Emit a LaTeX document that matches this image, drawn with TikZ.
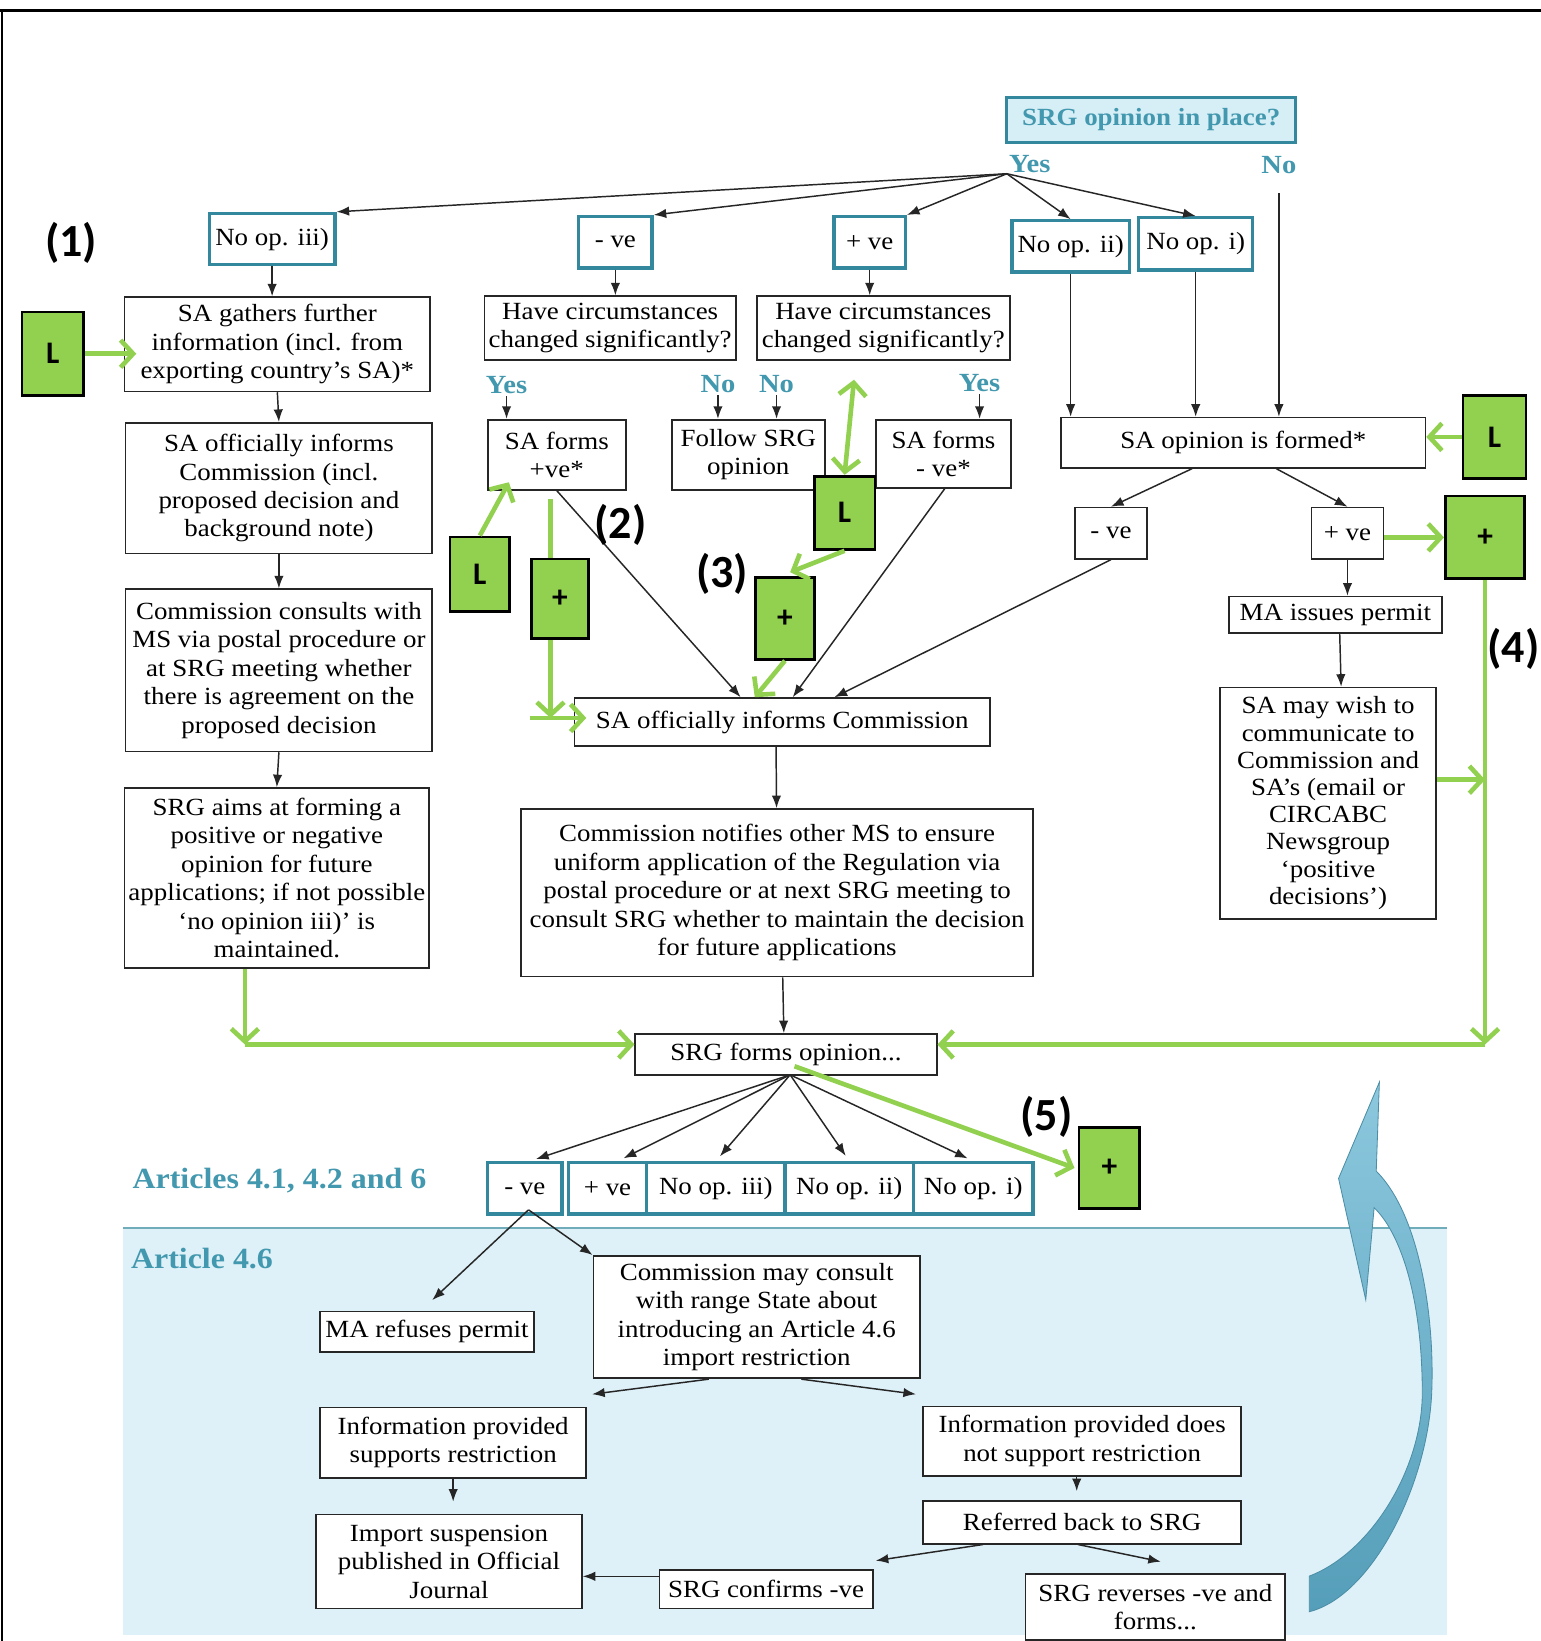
\documentclass[tikz,border=0pt]{standalone}
\usepackage{fontspec}
\setmainfont{Liberation Serif}[FakeStretch=1.09]
\newfontfamily\lblfont{Carlito}
\usetikzlibrary{arrows.meta,calc}
\definecolor{tealbd}{RGB}{52,136,158}
\definecolor{tealtx}{RGB}{66,152,174}
\definecolor{lblue}{RGB}{222,241,248}
\definecolor{qblue}{RGB}{214,238,246}
\definecolor{lgreen}{RGB}{146,208,80}
\definecolor{arrblueA}{RGB}{140,200,222}
\definecolor{arrblueB}{RGB}{85,158,185}
\newcommand\bx[7][]{%
  \pgfmathsetmacro\bxw{(#5-#3)*0.5}%
  \pgfmathsetmacro\bxh{(#6-#4)*0.5}%
  \node[box,#1,minimum width=\bxw pt,minimum height=\bxh pt] (#2) at ({(#3+#5)/2},{(#4+#6)/2}) {#7};}
\begin{document}
\begin{tikzpicture}[x=0.5pt,y=-0.5pt,
  box/.style={draw=black!85,line width=0.8pt,fill=white,align=center,inner sep=1pt,
    font=\fontsize{11.8}{13.6}\selectfont},
  tbox/.style={draw=tealbd,line width=1.6pt},
  gbox/.style={fill=lgreen,draw=black,line width=1.3pt,font=\lblfont\bfseries\fontsize{15}{15}\selectfont},
  tlab/.style={text=tealtx,font=\bfseries\fontsize{12.5}{13}\selectfont,inner sep=1pt},
  alab/.style={text=tealtx,font=\bfseries\fontsize{14}{15}\selectfont,inner sep=1pt},
  nlab/.style={font=\lblfont\bfseries\fontsize{22}{24}\selectfont,inner sep=0pt},
  arr/.style={-{Latex[length=6pt,width=4.5pt]},line width=0.7pt,black!85},
  gline/.style={draw=lgreen,line width=2.2pt},
  garr/.style={gline,-{Straight Barb[length=6pt,width=13pt,line width=2.2pt]}},
  gdarr/.style={gline,{Straight Barb[length=6pt,width=13pt,line width=2.2pt]}-{Straight Barb[length=6pt,width=13pt,line width=2.2pt]}}
]
\useasboundingbox (0,0) rectangle (1472,1568);
\fill[white] (0,0) rectangle (1472,1568);
% frame
\draw[line width=1.2pt] (0,10) -- (1472,10);
\draw[line width=1.2pt] (2,10) -- (2,1568);
% blue article 4.6 region
\fill[lblue] (118,1173) rectangle (1383,1562);
\draw[tealbd!70,line width=1pt] (118,1173) -- (1383,1173);
% big curved arrow
\shade[top color=arrblueA,bottom color=arrblueB,draw=arrblueB!90!black,line width=0.4pt]
  (1318,1034) -- (1315,1119) .. controls (1357,1161) and (1371,1260) .. (1368,1331)
  .. controls (1364,1419) and (1311,1525) .. (1251,1540) -- (1251,1506)
  .. controls (1311,1483) and (1359,1402) .. (1359,1331)
  .. controls (1359,1242) and (1339,1179) .. (1313,1154) -- (1305,1242) -- (1279,1126) -- cycle;

% top question
\node[box,tbox,fill=qblue,minimum width=138pt,minimum height=21.5pt,text=tealtx,font=\bfseries\fontsize{11.8}{13}\selectfont] (q) at (1100,114.5) {SRG opinion in place?};
\node[tlab] (yes0) at (984,157) {Yes};
\node[tlab] (no0) at (1222,158) {No};
\coordinate (fan1) at (962,166);

\bx[tbox]{noiii}{200}{204}{320}{253}{No op. iii)}
\bx[tbox]{mve}{553}{207}{623}{256}{- ve}
\bx[tbox]{pve}{797}{207}{865}{256}{+ ve}
\bx[tbox]{noii}{967}{211}{1079}{260}{No op. ii)}
\bx[tbox]{noi}{1088}{208}{1197}{258}{No op. i)}

\draw[arr] (fan1) -- (noiii.north east);
\draw[arr] (fan1) -- (mve.north east);
\draw[arr] (fan1) -- (pve.north east);
\draw[arr] (fan1) -- (noii.north);
\draw[arr] (fan1) -- (noi.north);

\bx{sag}{119}{284}{411}{374}{SA gathers further\\information (incl. from\\exporting country’s SA)*}
\bx{hc1}{463}{283}{703}{344}{Have circumstances\\changed significantly?}
\bx{hc2}{723}{283}{965}{344}{Have circumstances\\changed significantly?}
\draw[arr] (noiii.south) -- (noiii.south |- sag.north);
\draw[arr] (mve.south) -- (mve.south |- hc1.north);
\draw[arr] (pve.south) -- (pve.south |- hc2.north);

\node[tlab] (yes1) at (484,368) {Yes};
\node[tlab] (no1) at (686,367) {No};
\node[tlab] (no2) at (742,367) {No};
\node[tlab] (yes2) at (936,366) {Yes};

\bx{safp}{466}{401}{598}{468}{SA forms\\+ve*}
\bx{fsrg}{642}{401}{788}{468}{Follow SRG\\opinion}
\bx{safm}{837}{401}{966}{466}{SA forms\\- ve*}
\draw[arr] (yes1.south) -- (yes1.south |- safp.north);
\draw[arr] (no1.south) -- (no1.south |- fsrg.north);
\draw[arr] (no2.south) -- (no2.south |- fsrg.north);
\draw[arr] (yes2.south) -- (yes2.south |- safm.north);

\bx{saoi}{120}{404}{413}{529}{SA officially informs\\Commission (incl.\\proposed decision and\\background note)}
\bx{ccons}{120}{563}{413}{718}{Commission consults with\\MS via postal procedure or\\at SRG meeting whether\\there is agreement on the\\proposed decision}
\bx{srgaims}{119}{753}{410}{925}{SRG aims at forming a\\positive or negative\\opinion for future\\applications; if not possible\\‘no opinion iii)’ is\\maintained.}
\draw[arr] (sag.south) -- (saoi.north);
\draw[arr] (saoi.south) -- (ccons.north);
\draw[arr] (ccons.south) -- (srgaims.north);

\bx{sao}{1014}{399}{1362}{447}{SA opinion is formed*}
\draw[arr] (noii.south) -- (noii.south |- sao.north);
\draw[arr] (noi.south) -- (noi.south |- sao.north);
\draw[arr] (no0.south) ++(0,16) -- (no0.south |- sao.north);
\bx{mve2}{1027}{485}{1096}{534}{- ve}
\bx{pve2}{1253}{485}{1322}{534}{+ ve}
\draw[arr] ($(sao.south west)!0.36!(sao.south east)$) -- (mve2.north);
\draw[arr] ($(sao.south west)!0.59!(sao.south east)$) -- (pve2.north);
\bx{mai}{1174}{570}{1378}{605}{MA issues permit}
\draw[arr] (pve2.south) -- (pve2.south |- mai.north);
\bx[font=\fontsize{11.8}{13}\selectfont]{samay}{1166}{657}{1372}{878}{SA may wish to\\communicate to\\Commission and\\SA’s (email or\\CIRCABC\\Newsgroup\\‘positive\\decisions’)}
\draw[arr] ($(mai.south west)!0.52!(mai.south east)$) -- ($(samay.north west)!0.56!(samay.north east)$);

\bx{saoc}{549}{667}{946}{713}{SA officially informs Commission}
\draw[arr] (safp.south) -- ($(saoc.north west)!0.40!(saoc.north east)$);
\draw[arr] ($(safm.south west)!0.51!(safm.south east)$) -- ($(saoc.north west)!0.525!(saoc.north east)$);
\draw[arr] (mve2.south) -- ($(saoc.north west)!0.625!(saoc.north east)$);

\bx{cn}{498}{773}{987}{933}{Commission notifies other MS to ensure\\uniform application of the Regulation via\\postal procedure or at next SRG meeting to\\consult SRG whether to maintain the decision\\for future applications}
\draw[arr] ($(saoc.south west)!0.485!(saoc.south east)$) -- ($(cn.north west)!0.499!(cn.north east)$);
\bx{sfo}{607}{988}{895}{1027}{SRG forms opinion...}
\draw[arr] ($(cn.south west)!0.511!(cn.south east)$) -- ($(sfo.north west)!0.493!(sfo.north east)$);

% lower row
\node[alab,anchor=center] (art1) at (267,1128) {Articles 4.1, 4.2 and 6};
\node[alab,anchor=center] (art2) at (193,1203) {Article 4.6};
\bx[tbox]{bve}{466}{1111}{537}{1160}{- ve}
\bx[tbox]{bpve}{543}{1111}{618}{1160}{+ ve}
\bx[tbox]{bn3}{618}{1111}{750}{1160}{No op. iii)}
\bx[tbox]{bn2}{750}{1111}{873}{1160}{No op. ii)}
\bx[tbox]{bn1}{873}{1111}{987}{1160}{No op. i)}
\coordinate (fan2) at (755,1027);
\draw[arr,shorten >=3pt] (fan2) -- ($(bve.north)+(5,0)$);
\draw[arr,shorten >=3pt] (fan2) -- ($(bpve.north)+(10,0)$);
\draw[arr,shorten >=3pt] (fan2) -- (bn3.north);
\draw[arr,shorten >=3pt] (fan2) -- (bn2.north);
\draw[arr,shorten >=3pt] (fan2) -- (bn1.north);

\bx{mar}{306}{1253}{510}{1292}{MA refuses permit}
\bx{cmc}{567}{1200}{879}{1317}{Commission may consult\\with range State about\\introducing an Article 4.6\\import restriction}
\coordinate (bvs) at (505,1156);
\draw[arr] (bvs) -- ($(mar.north)+(5,-10)$);
\draw[arr] (bvs) -- (cmc.north west);

\bx{ipsr}{306}{1345}{560}{1412}{Information provided\\supports restriction}
\bx{inps}{882}{1344}{1186}{1410}{Information provided does\\not support restriction}
\draw[arr] ($(cmc.south west)!0.354!(cmc.south east)$) -- ($(ipsr.north east)+(5,-12)$);
\draw[arr] ($(cmc.south west)!0.636!(cmc.south east)$) -- ($(inps.north west)+(-6,-11)$);
\bx{isp}{302}{1447}{556}{1537}{Import suspension\\published in Official\\Journal}
\bx{rbs}{882}{1434}{1186}{1475}{Referred back to SRG}
\draw[arr] (ipsr.south) -- ++(0,22);
\draw[arr] ($(inps.south west)!0.483!(inps.south east)$) -- ++(0,14);
\bx{scm}{630}{1500}{834}{1537}{SRG confirms -ve}
\bx{srgrev}{980}{1504}{1228}{1567}{SRG reverses -ve and\\forms...}
\draw[arr] ($(rbs.south west)!0.19!(rbs.south east)$) -- ($(scm.north east)+(2,-8)$);
\draw[arr] ($(rbs.south west)!0.487!(rbs.south east)$) -- ($(srgrev.north west)+(130,-11)$);
\coordinate (scmw) at ($(scm.north west)+(0,7)$);
\draw[arr] (scmw) -- (scmw -| isp.east);

% green annotations
\node[nlab] (n1) at (68,232) {(1)};
\node[nlab] (n2) at (593,502) {(2)};
\node[nlab] (n3) at (690,548) {(3)};
\node[nlab] (n4) at (1446,620) {(4)};
\node[nlab] (n5) at (1000,1067) {(5)};

\bx[gbox]{gl1}{21}{298}{80}{378}{L}
\draw[garr,shorten >=-6pt] (gl1.east) -- (gl1.east -| sag.west);

\bx[gbox]{gl2}{430}{513}{487}{584}{L}
\draw[garr] (gl2.north) -- ($(safp.south west)+(21,-8)$);

\coordinate (gx) at (526,0);
\bx[gbox]{gp1}{508}{534}{562}{610}{+}
\draw[gline] ($(safp.south -| gx)+(0,8)$) -- (gp1.north -| gx);
\coordinate (gc) at (526,686);
\draw[garr] (gp1.south -| gx) -- (gc);
\draw[garr,shorten >=-6pt] (gc -| gp1.west) -- (gc -| saoc.west);

\bx[gbox]{gl3}{778}{455}{836}{525}{L}
\draw[gdarr] (gl3.north) -- ($(hc2.south)+(-28,18)$);
\bx[gbox]{gp2}{722}{552}{778}{630}{+}
\draw[garr] (gl3.south) -- ($(gp2.north)+(5,-4)$);
\draw[garr] (gp2.south) -- ($(saoc.north west)+(173,0)$);

\bx[gbox]{gl4}{1398}{378}{1458}{457}{L}
\draw[garr] (gl4.west) -- (gl4.west -| sao.east);
\bx[gbox]{gp3}{1381}{474}{1457}{553}{+}
\coordinate (pve2e) at ($(pve2.east)+(0,4)$);
\draw[garr] (pve2e) -- (pve2e -| gp3.west);

\coordinate (c4) at (1419,998);
\coordinate (c1) at (234,998);
\coordinate (c5) at (1419,745);
\draw[garr] (gp3.south -| c4) -- (c4);
\draw[garr] (c4) -- (c4 -| sfo.east);
\draw[garr] (c5 -| samay.east) -- (c5);
\draw[garr] (srgaims.south -| c1) -- (c1);
\draw[garr] (c1) -- (c1 -| sfo.west);

\bx[gbox]{gp4}{1031}{1077}{1089}{1155}{+}
\draw[garr] ($(sfo.south west)+(153,-9)$) -- ($(gp4.west)+(-3,0)$);
\end{tikzpicture}
\end{document}
